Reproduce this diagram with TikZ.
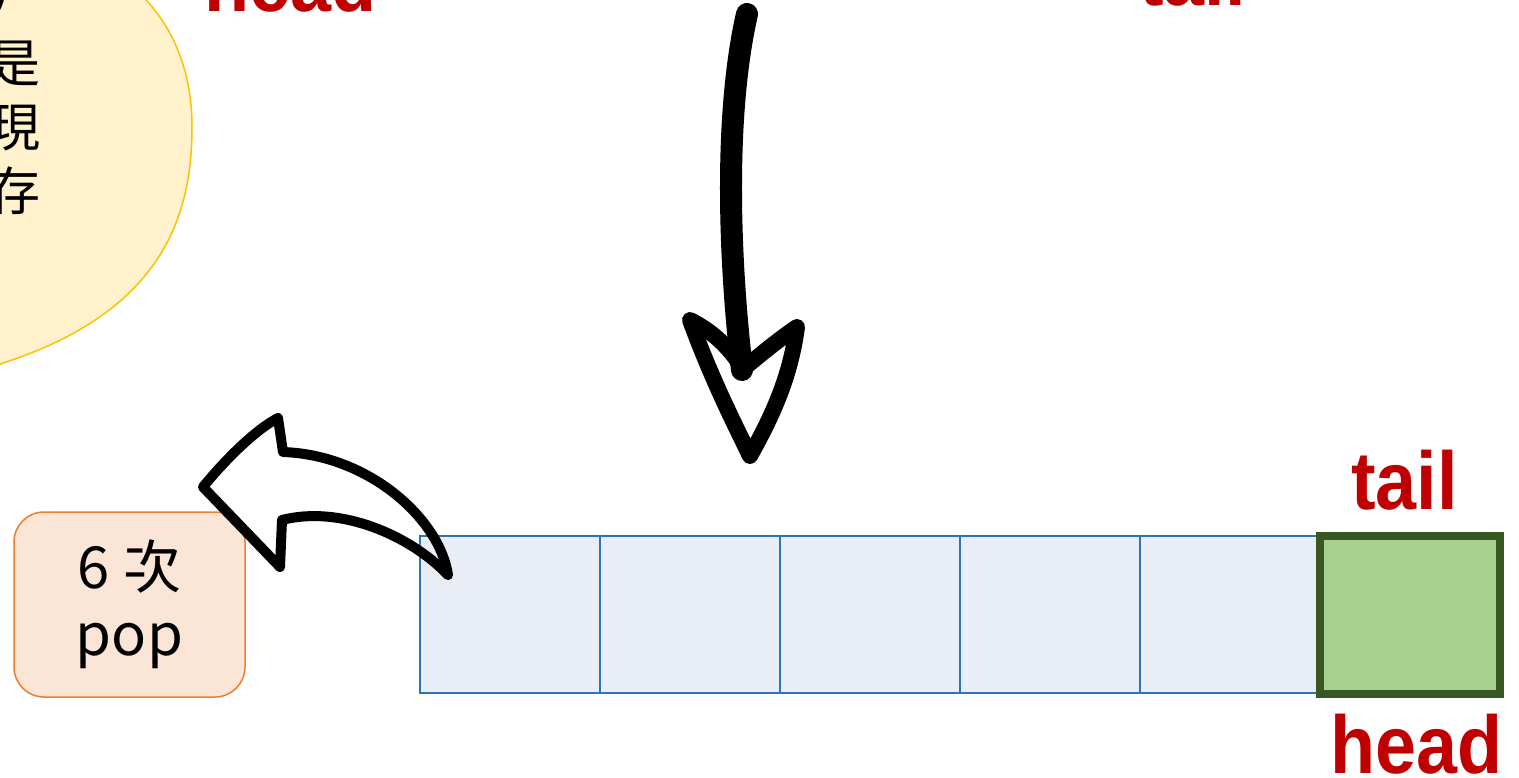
\documentclass[tikz,border=0pt]{standalone}
\usepackage{fontspec}
\setmainfont{Noto Sans CJK TC}
\newfontfamily\redf[FakeStretch=0.9]{Liberation Sans}
\definecolor{labred}{HTML}{C00000}
\definecolor{bubfill}{HTML}{FFF2CC}
\definecolor{bubline}{HTML}{FFC000}
\definecolor{popfill}{HTML}{FBE5D6}
\definecolor{popline}{HTML}{ED7D31}
\definecolor{cellfill}{HTML}{E9EDF6}
\definecolor{cellline}{HTML}{2E75B6}
\definecolor{gfill}{HTML}{A9D18E}
\definecolor{gline}{HTML}{385723}
\tikzset{
  cellbox/.style={draw=cellline, fill=cellfill, line width=2.5pt, minimum width=180pt, minimum height=157pt, inner sep=0pt, outer sep=0pt, anchor=north west},
  greenbox/.style={draw=gline, fill=gfill, line width=8pt, minimum width=180pt, minimum height=158pt, inner sep=0pt, outer sep=0pt, anchor=north west},
  redlabel/.style={text=labred, inner sep=0pt, anchor=base west, font=\redf\bfseries\fontsize{82}{82}\selectfont},
  bubchar/.style={inner sep=0pt, anchor=base west, font=\fontsize{52}{52}\selectfont},
  popbox/.style={draw=popline, fill=popfill, line width=1.5pt, rounded corners=30pt, minimum width=231pt, minimum height=185pt, align=center, font=\fontsize{58}{67}\selectfont},
  sketch/.style={draw=black, line cap=round, line join=round}
}
\begin{document}
\begin{tikzpicture}[x=1pt,y=-1pt]
\useasboundingbox (0,0) rectangle (1519,777);
\clip (0,0) rectangle (1519,777);

% speech bubble (cut off at the left/top)
\draw[draw=bubline, fill=bubfill, line width=1.5pt]
  (110,-30) .. controls (165,5) and (192,60) .. (192,127)
  .. controls (192,220) and (160,320) .. (-20,370)
  -- (-100,400) -- (-100,-100) -- (60,-100) -- cycle;
\node[bubchar, font=\bfseries\fontsize{44}{44}\selectfont] (b0) at (-9,4) {)};
\node[bubchar] (b2) at (-12,82) {是};
\node[bubchar] (b3) at (-12,146) {現};
\node[bubchar] (b4) at (-12,210) {存};

% top labels (cut off)
\node[redlabel] (headtop) at (204,11) {head};
\node[redlabel] (tailtop) at (1139,5) {tail};

% array
\node[cellbox] (c1) at (420,536) {};
\node[cellbox] (c2) at (600,536) {};
\node[cellbox] (c3) at (780,536) {};
\node[cellbox] (c4) at (960,536) {};
\node[cellbox] (c5) at (1140,536) {};
\node[greenbox] (g) at (1319.5,536) {};

\node[redlabel] (tailbot) at (1351,509) {tail};
\node[redlabel] (headbot) at (1330,773) {head};

% pop box
\node[popbox] (pop) at (129.5,604.5) {6 次\\pop};

% big down arrow
\draw[sketch, line width=22pt]
  (747,14) .. controls (725,110) and (728,250) .. (742,370);
\draw[sketch, line width=16pt]
  (690,320) .. controls (712,380) and (735,425) .. (750,456)
  .. controls (770,420) and (790,380) .. (797,327)
  .. controls (778,340) and (760,355) .. (743,369)
  .. controls (728,345) and (710,330) .. cycle;

% curved pop arrow
\draw[sketch, line width=10pt]
  (448,575) .. controls (440,520) and (370,455) .. (283,452)
  -- (278,418) .. controls (255,430) and (225,460) .. (203,487)
  -- (280,567) -- (282,520)
  .. controls (340,505) and (410,535) .. (448,575);
\end{tikzpicture}
\end{document}
